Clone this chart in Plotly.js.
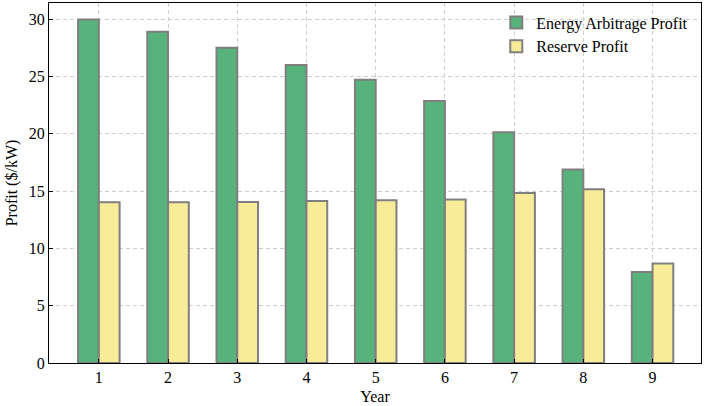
<!DOCTYPE html>
<html>
<head>
<meta charset="utf-8">
<script src="https://cdn.plot.ly/plotly-3.0.1.min.js"></script>
<style>html,body{margin:0;padding:0;background:#fff;}#chart{width:706px;height:406px;}</style>
</head>
<body>
<div id="chart"></div>
<script>
const years = [1, 2, 3, 4, 5, 6, 7, 8, 9];
const energyArbitrageProfit = [29.95, 28.9, 27.5, 26.0, 24.7, 22.85, 20.12, 16.87, 7.93];
const reserveProfit = [14.02, 14.03, 14.05, 14.14, 14.2, 14.27, 14.83, 15.15, 8.68];
const seriesNames = ["Energy Arbitrage Profit", "Reserve Profit"];
const yTicks = [0, 5, 10, 15, 20, 25, 30];

const font = "Liberation Serif, Times New Roman, serif";
const traces = [
  {type: "bar", x: years, y: energyArbitrageProfit, name: seriesNames[0],
   marker: {color: "#58b27b", line: {color: "#7f7f7f", width: 2}}},
  {type: "bar", x: years, y: reserveProfit, name: seriesNames[1],
   marker: {color: "#f8ec98", line: {color: "#7f7f7f", width: 2}}}
];
const layout = {
  width: 706, height: 406,
  margin: {l: 49, r: 5, t: 3, b: 43},
  paper_bgcolor: "#fff", plot_bgcolor: "#fff",
  barmode: "group", bargap: 0.4, bargroupgap: 0,
  font: {family: font, size: 16, color: "#000"},
  xaxis: {
    range: [0.28, 9.7], tickvals: years, ticktext: years.map(String),
    showgrid: true, gridcolor: "#cfcfcf", griddash: "4px,3px", gridwidth: 1,
    showline: true, linecolor: "#000", linewidth: 1, mirror: true,
    ticks: "inside", ticklen: 4, tickcolor: "#000",
    zeroline: false, tickfont: {family: font, size: 16},
    title: {text: "Year", font: {family: font, size: 16}, standoff: 5}
  },
  yaxis: {
    range: [0, 31.4], tickvals: yTicks,
    showgrid: true, gridcolor: "#cfcfcf", griddash: "4px,3px", gridwidth: 1,
    showline: true, linecolor: "#000", linewidth: 1, mirror: true,
    ticks: "inside", ticklen: 4, tickcolor: "#000",
    zeroline: false, tickfont: {family: font, size: 16},
    title: {text: "Profit ($/kW)", font: {family: font, size: 16}, standoff: 7}
  },
  legend: {x: 0.686, y: 0.993, xanchor: "left", yanchor: "top",
    bgcolor: "rgba(255,255,255,0)", font: {family: font, size: 16},
    tracegroupgap: 2},
  showlegend: true
};
Plotly.newPlot("chart", traces, layout, {displayModeBar: false, staticPlot: true});
</script>
</body>
</html>
